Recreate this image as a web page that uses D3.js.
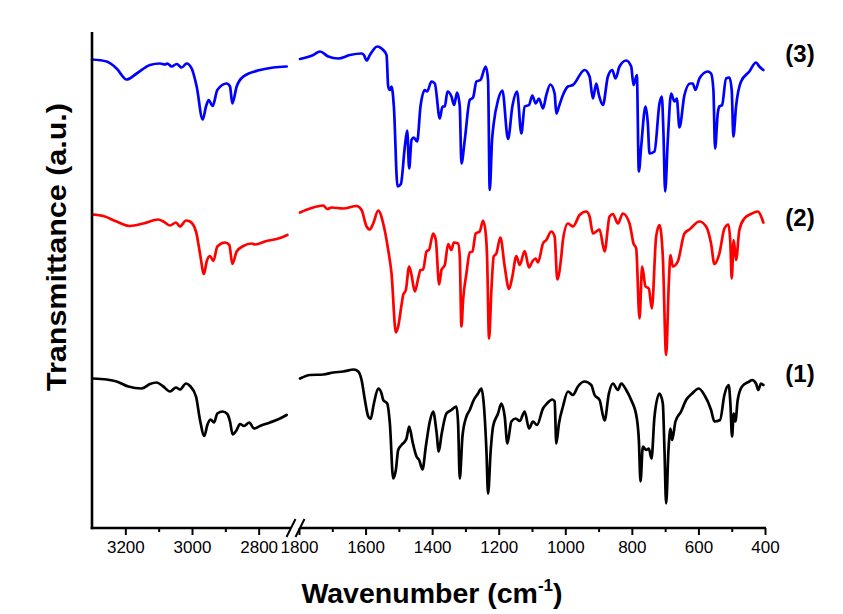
<!DOCTYPE html>
<html><head><meta charset="utf-8">
<script src="https://cdn.jsdelivr.net/npm/d3@7"></script>
<style>body{margin:0;background:#fff} svg{display:block}</style>
</head><body>
<svg id="chart" width="843" height="614"></svg>
<script>
// ---------- DATA (transmittance, arbitrary units, spectra offset) ----------
const wavenumber1 = [3298,3256,3226,3191,3151,3126,3106,3088,3066,3048,3036,3018,3006,2988,2976,2963,2954,2944,2934,2924,2908,2894,2886,2878,2866,2856,2844,2828,2814,2796,2766,2736,2716,
 1797,1767,1727,1697,1667,1635,1622,1612,1602,1592,1585,1575,1562,1552,1547,1535,1527,1517,1509,1502,1492,1482,1477,1469,1459,1447,1439,1429,1419,1407,1397,1387,1380,1372,1357,1342,1327,1322,1317,1309,1297,1287,1275,1262,1252,1245,1237,1232,1224,1217,1202,1192,1182,1174,1162,1149,1137,1122,1109,1097,1085,1067,1055,1039,1032,1027,1019,1007,992,977,962,942,922,912,897,882,869,857,842,832,817,802,785,779,774,767,757,749,741,732,717,707,702,697,690,684,679,669,652,637,619,599,582,562,552,535,522,509,504,499,494,489,482,469,447,439,427,420,412,405];
const transmittance1 = [29.9,29.7,29.3,28.3,27.9,28.8,29.1,28.4,27.3,28.1,27.7,28.9,28.4,26.3,21.6,18.4,20.6,21.7,21.1,22.9,23.3,22.8,21.3,18.7,19.6,20.8,20.4,21.1,19.9,20.4,21.1,21.9,22.6,
 29.9,30.6,30.7,31.1,31.3,31.7,31.3,29.6,25.6,22.3,21.8,24.9,27.9,26.9,25.6,24.9,20.9,9.9,11.6,15.6,16.6,17.3,17.9,20.3,17.3,14.3,13.6,11.7,16.3,21.3,23.3,19.3,15.3,18.6,22.9,23.6,24.3,20.9,9.9,18.3,22.3,23.6,25.6,26.9,27.9,24.9,15.6,6.9,15.6,20.3,22.9,24.9,22.3,16.9,21.3,21.9,21.4,23.3,19.9,21.3,20.6,23.9,24.9,25.7,25.3,16.9,20.9,24.3,27.3,26.6,28.3,29.3,28.6,26.6,25.6,21.5,26.9,28.9,27.6,28.9,27.6,25.6,21.9,17.6,9.3,16.3,15.6,15.9,13.9,22.3,26.9,24.9,15.6,4.9,15.6,19.9,17.6,21.3,23.3,25.6,26.9,27.9,26.6,23.6,21.3,21.6,26.6,28.6,24.9,18.3,22.9,21.3,25.6,28.3,29.3,29.6,28.9,27.6,28.9,28.6];

const wavenumber2 = [3298,3266,3226,3186,3146,3101,3086,3066,3048,3036,3018,3006,2988,2976,2964,2956,2946,2936,2924,2901,2888,2879,2866,2846,2821,2811,2776,2741,2714,
 1797,1767,1727,1715,1702,1667,1627,1612,1597,1587,1577,1562,1547,1532,1522,1509,1502,1492,1487,1479,1469,1462,1452,1442,1435,1427,1417,1409,1397,1389,1379,1372,1362,1352,1342,1335,1322,1317,1312,1307,1297,1287,1279,1269,1257,1247,1239,1235,1229,1222,1215,1207,1195,1182,1169,1159,1147,1137,1122,1109,1099,1089,1082,1067,1057,1042,1032,1024,1012,1007,992,977,957,937,927,917,897,882,867,857,842,827,807,795,787,777,769,759,749,740,727,717,707,697,689,684,677,662,642,627,597,577,562,552,537,522,510,504,500,494,487,477,462,442,422,405];
const transmittance2 = [62.7,62.4,61.3,60.4,60.9,61.7,61.3,60.5,61.1,60.3,61.5,61.3,59.3,54.9,50.8,53.3,54.4,53.4,56.3,57.1,56.6,52.8,55.3,56.4,56.9,56.7,57.4,57.9,58.6,
 63.1,63.9,64.5,63.8,64.1,63.9,64.4,63.6,60.3,59.7,60.9,63.5,60.9,55.6,50.9,39.1,40.3,44.6,46.6,47.6,52.3,50.6,47.3,49.9,51.6,51.7,55.3,55.7,58.9,57.6,48.7,51.6,52.6,56.8,55.6,57.1,56.9,54.3,40.3,45.6,50.9,55.1,55.3,58.9,59.3,61.5,58.9,54.3,37.9,47.6,54.3,54.9,58.1,52.3,47.8,50.3,54.4,52.6,55.4,52.1,53.3,53.9,53.1,56.9,57.6,59.3,58.3,49.7,54.3,57.6,60.9,60.3,62.6,63.3,62.3,58.9,59.7,55.3,62.3,62.8,60.9,62.9,60.9,56.9,55.9,41.9,52.3,48.3,47.9,43.9,58.3,60.6,54.3,34.6,48.9,54.6,52.3,53.3,58.9,59.7,61.3,60.3,56.9,52.8,54.9,59.9,60.7,56.9,49.9,57.6,53.6,59.6,61.9,62.8,63.3,61.1];

const wavenumber3 = [3300,3256,3226,3196,3166,3126,3096,3081,3074,3061,3046,3031,3016,3001,2986,2968,2958,2950,2938,2924,2896,2886,2879,2866,2846,2796,2756,2716,
 1797,1757,1737,1712,1682,1647,1612,1605,1597,1587,1565,1552,1537,1532,1527,1522,1515,1504,1494,1482,1475,1469,1462,1455,1445,1435,1422,1415,1402,1392,1377,1369,1362,1354,1342,1334,1325,1317,1312,1302,1287,1277,1267,1255,1239,1232,1227,1220,1215,1202,1189,1172,1159,1145,1132,1122,1109,1099,1089,1079,1067,1057,1045,1032,1027,1019,1007,992,977,942,927,917,907,899,887,872,859,849,837,817,802,795,785,779,772,759,752,747,732,717,710,705,700,692,682,672,665,657,642,625,617,609,597,572,562,555,550,542,537,529,517,507,500,495,487,472,447,427,417,405];
const transmittance3 = [93.7,93.3,91.9,89.7,90.9,92.6,92.9,92.7,92.9,92.3,92.8,92.1,92.9,91.9,88.3,81.7,84.3,85.6,84.4,87.6,88.9,88.3,84.9,88.3,90.3,91.6,92.1,92.3,
 93.8,94.6,95.3,94.3,93.9,94.6,94.9,94.6,93.5,94.6,96.3,95.9,94.6,88.3,87.6,88.3,84.3,68.3,68.8,76.3,79.5,71.9,77.6,78.1,77.3,84.3,87.6,87.3,89.3,88.9,81.9,84.3,84.3,87.3,86.3,84.6,87.1,84.3,72.9,77.6,85.6,86.1,89.3,89.6,92.3,89.6,67.6,77.6,80.9,85.6,87.5,77.8,84.3,87.3,78.9,84.3,84.6,86.5,84.9,85.9,83.9,86.6,88.7,86.9,82.9,84.3,86.6,88.3,88.6,91.6,90.3,85.9,88.9,86.6,84.6,90.3,91.6,89.9,92.3,93.5,92.3,88.6,90.6,71.3,76.3,84.3,80.9,74.9,75.3,84.9,86.3,78.9,67.3,77.6,86.9,85.3,85.9,80.1,86.6,88.9,88.9,87.6,89.9,91.3,90.9,87.6,75.9,82.9,84.3,84.6,89.9,90.1,87.6,78.3,84.3,89.3,91.3,93.1,92.3,91.6];

const seriesLabels = ["(1)", "(2)", "(3)"];
const seriesColors = ["#000000", "#ff0000", "#0000ff"];
const labelLevels = [29.2, 60.4, 93.2];

const highDomain = [3300, 2700];
const lowDomain = [1800, 400];
const majorTicksHigh = [3200, 3000, 2800];
const minorTicksHigh = [3100, 2900];
const majorTicksLow = [1800, 1600, 1400, 1200, 1000, 800, 600, 400];
const minorTicksLow = [1700, 1500, 1300, 1100, 900, 700, 500];
const yDomain = [0, 99.2];

const xTitle = "Wavenumber (cm";
const xTitleSup = "-1";
const yTitle = "Transmittance (a.u.)";

// ---------- DRAWING ----------
const svg = d3.select("#chart");
svg.append("rect").attr("width", 843).attr("height", 614).attr("fill", "#fff");

const xHigh = d3.scaleLinear().domain(highDomain).range([92, 292]);
const xLow = d3.scaleLinear().domain(lowDomain).range([299, 765]);
const y = d3.scaleLinear().domain(yDomain).range([528, 32]);
const fontFam = "Liberation Sans, Arial, sans-serif";

const series = [
  {wn: wavenumber1, t: transmittance1},
  {wn: wavenumber2, t: transmittance2},
  {wn: wavenumber3, t: transmittance3}
];

series.forEach((s, i) => {
  const pts = d3.zip(s.wn, s.t);
  const hi = pts.filter(p => p[0] >= 2000);
  const lo = pts.filter(p => p[0] < 2000);
  const lineHi = d3.line().curve(d3.curveMonotoneX).x(p => xHigh(p[0])).y(p => y(p[1]));
  const lineLo = d3.line().curve(d3.curveMonotoneX).x(p => xLow(p[0])).y(p => y(p[1]));
  [[hi, lineHi], [lo, lineLo]].forEach(([d, ln]) => {
    svg.append("path").attr("d", ln(d)).attr("fill", "none")
      .attr("stroke", seriesColors[i]).attr("stroke-width", 2.7)
      .attr("stroke-linejoin", "round").attr("stroke-linecap", "round");
  });
  svg.append("text").attr("x", 800).attr("y", y(labelLevels[i]))
    .attr("text-anchor", "middle").attr("font-family", fontFam)
    .attr("font-weight", "bold").attr("font-size", 24).attr("fill", "#000")
    .text(seriesLabels[i]);
});

function drawAxis(scale, major, minor) {
  const gMaj = svg.append("g").attr("transform", "translate(0,528)")
    .call(d3.axisBottom(scale).tickValues(major).tickSize(7).tickPadding(6).tickFormat(d3.format("d")));
  const gMin = svg.append("g").attr("transform", "translate(0,528)")
    .call(d3.axisBottom(scale).tickValues(minor).tickSize(4).tickFormat(""));
  [gMaj, gMin].forEach(g => {
    g.select(".domain").remove();
    g.selectAll(".tick line").attr("stroke", "#000").attr("stroke-width", 2);
  });
  gMaj.selectAll(".tick text").attr("font-family", fontFam).attr("font-size", 17).attr("fill", "#000");
}
drawAxis(xHigh, majorTicksHigh, minorTicksHigh);
drawAxis(xLow, majorTicksLow, minorTicksLow);

// axis lines
svg.append("line").attr("x1", 92).attr("x2", 92).attr("y1", 32).attr("y2", 529.3)
  .attr("stroke", "#000").attr("stroke-width", 2.6);
svg.append("line").attr("x1", 90.7).attr("x2", xHigh(highDomain[1]) - 1).attr("y1", 528).attr("y2", 528)
  .attr("stroke", "#000").attr("stroke-width", 2.6);
svg.append("line").attr("x1", xLow(lowDomain[0]) + 1).attr("x2", xLow(lowDomain[1]) + 1).attr("y1", 528).attr("y2", 528)
  .attr("stroke", "#000").attr("stroke-width", 2.6);
// break marks
const bx1 = xHigh(highDomain[1]) - 1, bx2 = xLow(lowDomain[0]) + 1;
[bx1, bx2].forEach(bx => {
  svg.append("line").attr("x1", bx - 4.5).attr("y1", 537).attr("x2", bx + 4.5).attr("y2", 519)
    .attr("stroke", "#000").attr("stroke-width", 2);
});

// titles
const xt = svg.append("text").attr("x", 432).attr("y", 603).attr("text-anchor", "middle")
  .attr("font-family", fontFam).attr("font-weight", "bold").attr("font-size", 28.5).attr("fill", "#000");
xt.append("tspan").text(xTitle);
xt.append("tspan").attr("font-size", 17).attr("dy", -12).text(xTitleSup);
xt.append("tspan").attr("dy", 12).text(")");

svg.append("text").attr("transform", "translate(66,247) rotate(-90)").attr("text-anchor", "middle")
  .attr("font-family", fontFam).attr("font-weight", "bold").attr("font-size", 27)
  .attr("textLength", 288).attr("lengthAdjust", "spacingAndGlyphs").attr("fill", "#000")
  .text(yTitle);
</script>
</body></html>
